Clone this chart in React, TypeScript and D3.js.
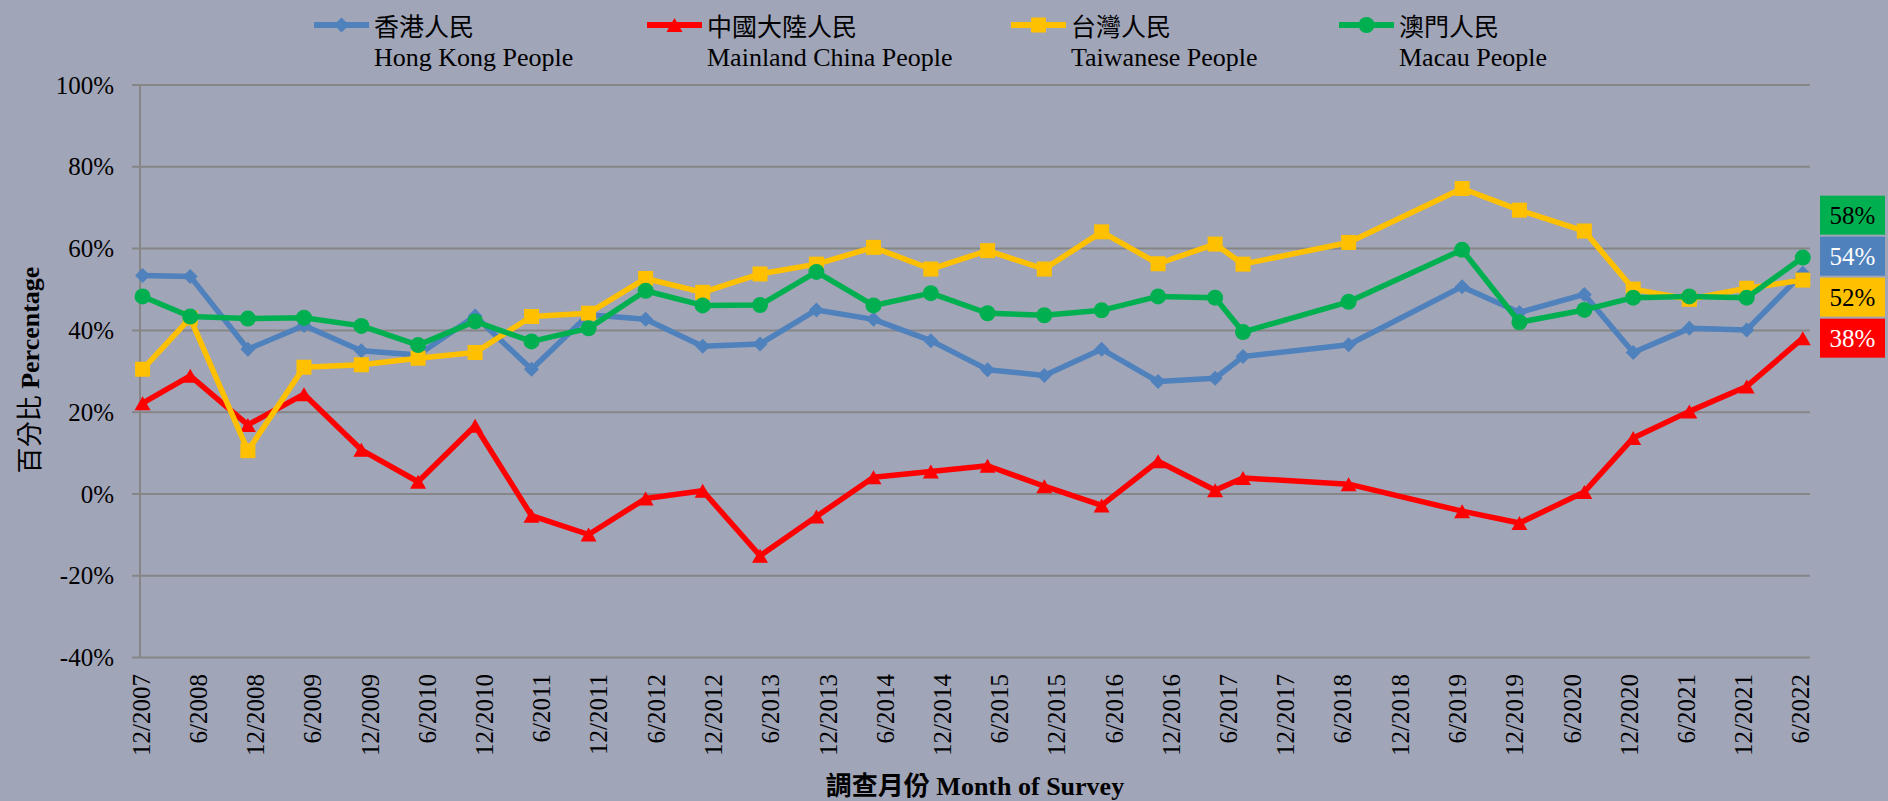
import { useRef, useEffect } from "react";
import * as d3 from "d3";

// Survey dates and percentages for each group.
const surveyDates = [
    "2007-12-06", "2008-05-06", "2008-11-06", "2009-05-04", "2009-11-03",
    "2010-05-03", "2010-11-01", "2011-04-30", "2011-10-29", "2012-04-28",
    "2012-10-27", "2013-04-28", "2013-10-25", "2014-04-25", "2014-10-25",
    "2015-04-24", "2015-10-22", "2016-04-22", "2016-10-19", "2017-04-19",
    "2017-07-17", "2018-06-19", "2019-06-16", "2019-12-16", "2020-07-10",
    "2020-12-13", "2021-06-10", "2021-12-10", "2022-06-07",
];

const hongKongPeople = [
    53.4, 53.2, 35.4, 41.2, 35.0, 34.0, 43.5, 30.5, 43.8, 42.7,
    36.1, 36.7, 45.0, 42.7, 37.5, 30.4, 29.0, 35.4, 27.5, 28.3,
    33.6, 36.5, 50.7, 44.4, 48.8, 34.6, 40.5, 40.1, 54.0,
];

const mainlandChinaPeople = [
    22.2, 28.9, 16.9, 24.4, 10.8, 3.0, 16.7, -5.3, -9.9, -1.1,
    0.8, -15.1, -5.5, 4.1, 5.5, 6.9, 1.9, -2.8, 8.0, 0.9,
    3.9, 2.4, -4.2, -7.1, 0.5, 13.7, 20.2, 26.3, 38.1,
];

const taiwanesePeople = [
    30.5, 43.0, 10.6, 31.0, 31.6, 33.2, 34.6, 43.4, 44.2, 52.7,
    49.3, 53.8, 56.2, 60.3, 55.0, 59.5, 55.0, 64.1, 56.3, 61.1,
    56.2, 61.5, 74.7, 69.4, 64.3, 50.1, 47.6, 50.3, 52.3,
];

const macauPeople = [
    48.3, 43.4, 42.9, 43.1, 41.1, 36.4, 42.2, 37.3, 40.5, 49.7,
    46.1, 46.2, 54.3, 46.1, 49.1, 44.2, 43.7, 44.9, 48.3, 48.0,
    39.6, 47.0, 59.7, 42.0, 45.0, 48.0, 48.3, 48.0, 57.8,
];

const seriesNamesZh = ["香港人民", "中國大陸人民", "台灣人民", "澳門人民"];
const seriesNamesEn = ["Hong Kong People", "Mainland China People", "Taiwanese People", "Macau People"];
const yTicks = [-40, -20, 0, 20, 40, 60, 80, 100];

const SERIF = "'Times New Roman', 'Liberation Serif', 'Noto Sans CJK TC', serif";

export default function App() {
    const ref = useRef<SVGSVGElement>(null);

    useEffect(() => {
        if (!ref.current) return;

        const width = 1888;
        const height = 801;
        const plotLeft = 141;
        const plotRight = 1810;
        const plotTop = 85;
        const plotBottom = 657.6;

        const parse = d3.timeParse("%Y-%m-%d");
        const dates = surveyDates.map((s) => parse(s) as Date);

        const x = d3
            .scaleTime()
            .domain([new Date(2007, 11, 1), new Date(2022, 5, 30)])
            .range([plotLeft, plotRight]);

        const y = d3.scaleLinear().domain([-40, 100]).range([plotBottom, plotTop]);

        // marker shapes, Excel-like
        const diamond = "M0,-7.5L7.5,0L0,7.5L-7.5,0Z";
        const triangle = "M0,-7L8,7L-8,7Z";
        const square = "M-7.5,-7.5h15v15h-15Z";
        const circle = d3.symbol(d3.symbolCircle, Math.PI * 8 * 8)() as string;

        const series = [
            { values: hongKongPeople, color: "#4F81BD", marker: diamond, text: "#fff" },
            { values: mainlandChinaPeople, color: "#FF0000", marker: triangle, text: "#fff" },
            { values: taiwanesePeople, color: "#FFC000", marker: square, text: "#000" },
            { values: macauPeople, color: "#00B050", marker: circle, text: "#000" },
        ];

        const svg = d3.select(ref.current);
        svg.selectAll("*").remove();
        svg.attr("width", width).attr("height", height);

        svg.append("rect").attr("width", width).attr("height", height).attr("fill", "#A0A5B8");

        // gridlines + left ticks
        svg.append("g")
            .selectAll("line")
            .data(yTicks)
            .join("line")
            .attr("x1", plotLeft - 9)
            .attr("x2", plotRight)
            .attr("y1", (d) => y(d))
            .attr("y2", (d) => y(d))
            .attr("stroke", "#868686")
            .attr("stroke-width", 2);

        svg.append("line")
            .attr("x1", plotLeft - 1)
            .attr("x2", plotLeft - 1)
            .attr("y1", plotTop)
            .attr("y2", plotBottom)
            .attr("stroke", "#868686")
            .attr("stroke-width", 2);

        // y tick labels
        svg.append("g")
            .selectAll("text")
            .data(yTicks)
            .join("text")
            .attr("x", 114)
            .attr("y", (d) => y(d))
            .attr("text-anchor", "end")
            .attr("dominant-baseline", "central")
            .attr("font-family", SERIF)
            .attr("font-size", 25)
            .attr("fill", "#000")
            .text((d) => `${d}%`);

        // x tick labels every 6 months
        const xTicks = d3
            .timeMonth.range(new Date(2007, 11, 1), new Date(2022, 6, 1))
            .filter((_, i) => i % 6 === 0);
        const fmt = d3.timeFormat("%-m/%Y");

        svg.append("g")
            .selectAll("text")
            .data(xTicks)
            .join("text")
            .attr("transform", (d) => `translate(${x(d)},674) rotate(-90)`)
            .attr("text-anchor", "end")
            .attr("dominant-baseline", "central")
            .attr("font-family", SERIF)
            .attr("font-size", 25)
            .attr("fill", "#000")
            .text((d) => fmt(d));

        // lines and markers, in Excel series order
        const line = d3
            .line<number>()
            .x((_, i) => x(dates[i]))
            .y((d) => y(d));

        series.forEach((s) => {
            const g = svg.append("g");
            g.append("path")
                .attr("d", line(s.values))
                .attr("fill", "none")
                .attr("stroke", s.color)
                .attr("stroke-width", 5.5)
                .attr("stroke-linejoin", "round");
            g.selectAll("path.m")
                .data(s.values)
                .join("path")
                .attr("class", "m")
                .attr("d", s.marker)
                .attr("transform", (d, i) => `translate(${x(dates[i])},${y(d)})`)
                .attr("fill", s.color);
        });

        // legend
        const legendX = [314, 647, 1011, 1339];
        series.forEach((s, i) => {
            const g = svg.append("g").attr("transform", `translate(${legendX[i]},25)`);
            g.append("line")
                .attr("x1", 0)
                .attr("x2", 55)
                .attr("stroke", s.color)
                .attr("stroke-width", 6);
            g.append("path").attr("d", s.marker).attr("transform", "translate(27.5,0)").attr("fill", s.color);
            g.append("text")
                .attr("x", 60)
                .attr("y", 0)
                .attr("dominant-baseline", "central")
                .attr("font-family", "'Noto Sans CJK TC', sans-serif")
                .attr("font-size", 25)
                .attr("fill", "#000")
                .text(seriesNamesZh[i]);
            g.append("text")
                .attr("x", 60)
                .attr("y", 41)
                .attr("font-family", SERIF)
                .attr("font-size", 26)
                .attr("fill", "#000")
                .text(seriesNamesEn[i]);
        });

        // end-value labels, stacked upward from the lowest one
        const last = series
            .map((s) => ({ v: s.values[s.values.length - 1], color: s.color, text: s.text }))
            .sort((a, b) => a.v - b.v);
        const bottomY = y(last[0].v);
        last.forEach((d, k) => {
            const cy = bottomY - 41 * k;
            svg.append("rect")
                .attr("x", 1820)
                .attr("y", cy - 19.5)
                .attr("width", 65)
                .attr("height", 39)
                .attr("fill", d.color);
            svg.append("text")
                .attr("x", 1852.5)
                .attr("y", cy)
                .attr("text-anchor", "middle")
                .attr("dominant-baseline", "central")
                .attr("font-family", SERIF)
                .attr("font-size", 25)
                .attr("fill", d.text)
                .text(`${Math.round(d.v)}%`);
        });

        // axis titles
        const yTitle = svg.append("text")
            .attr("transform", "translate(30,370) rotate(-90)")
            .attr("text-anchor", "middle")
            .attr("dominant-baseline", "central")
            .attr("font-family", SERIF)
            .attr("font-size", 26)
            .attr("fill", "#000");
        yTitle.append("tspan").text("百分比 ");
        yTitle.append("tspan").attr("font-weight", "bold").text("Percentage");

        svg.append("text")
            .attr("x", 975)
            .attr("y", 795)
            .attr("text-anchor", "middle")
            .attr("font-family", SERIF)
            .attr("font-size", 26)
            .attr("font-weight", "bold")
            .attr("fill", "#000")
            .text("調查月份 Month of Survey");
    });

    return (
        <>
            <style>{`body{margin:0;overflow:hidden}`}</style>
            <svg ref={ref} style={{ display: "block" }}></svg>
        </>
    );
}
